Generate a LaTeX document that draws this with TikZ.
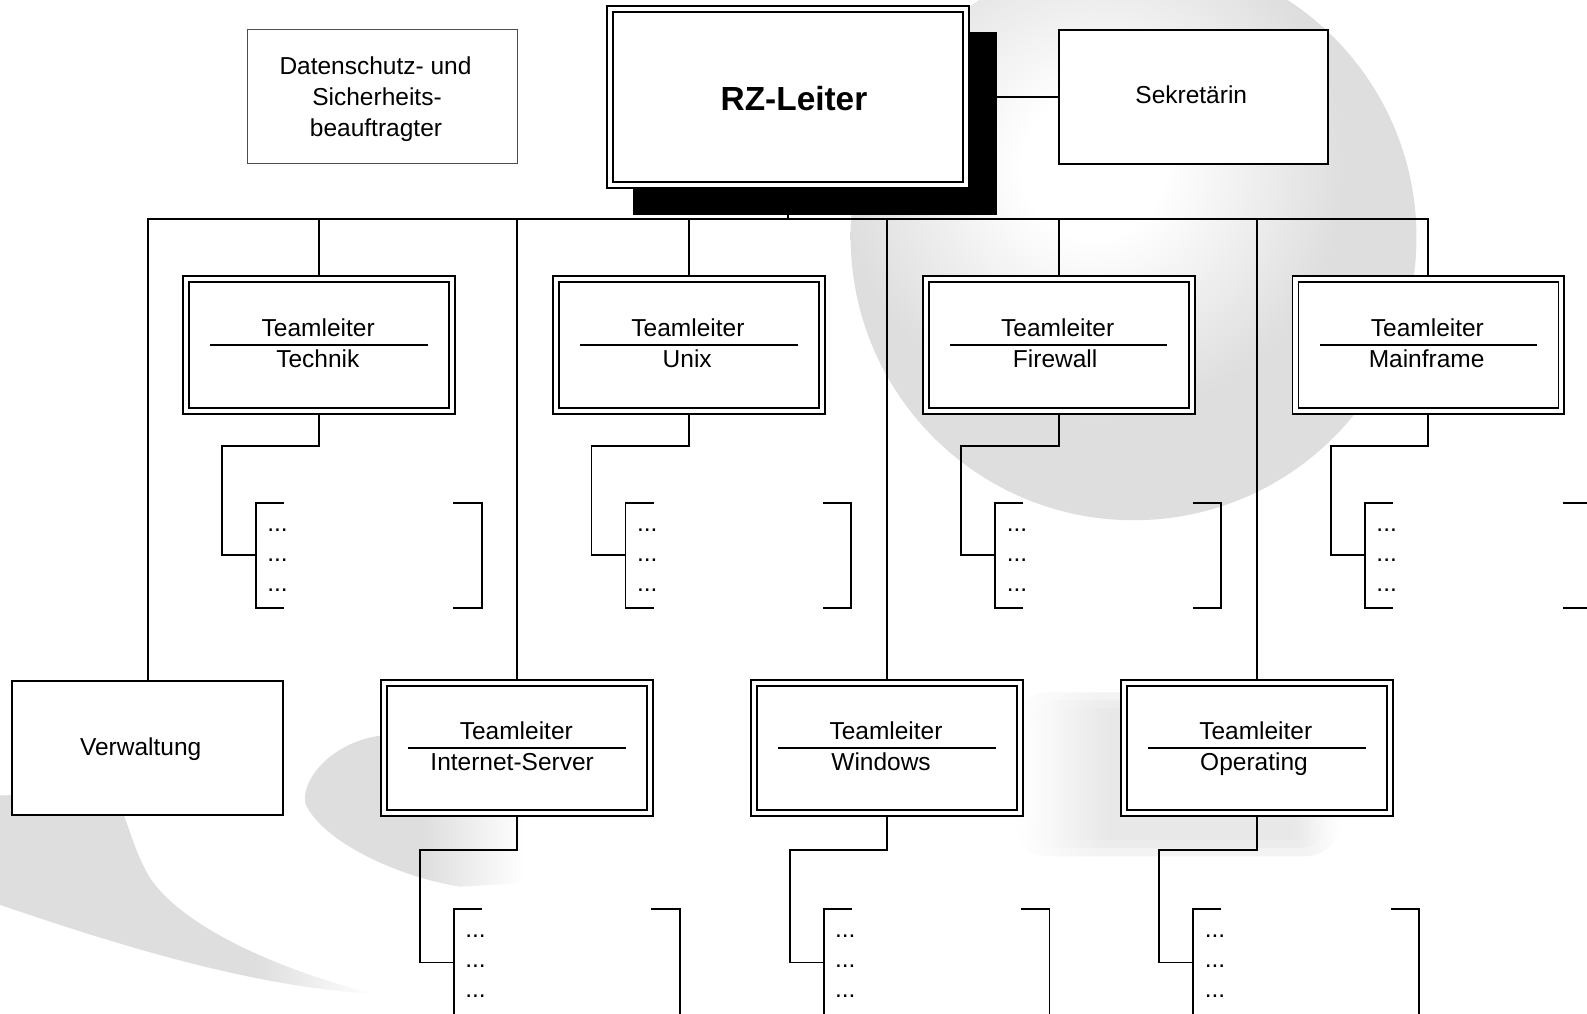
\documentclass[tikz,border=0pt]{standalone}
\usepackage{fontspec}
\setmainfont{Liberation Sans}
\definecolor{sg}{gray}{0.87}
\definecolor{sl}{gray}{0.90}
\pgfdeclareradialshading{spherehl}{\pgfpointorigin}{color(0bp)=(white); color(7bp)=(white); color(25bp)=(sg); color(50bp)=(sg)}
\pgfdeclarehorizontalshading{bandfade}{100bp}{color(0bp)=(sg); color(59bp)=(sg); color(75bp)=(white); color(100bp)=(white)}
\pgfdeclarehorizontalshading{armfade}{100bp}{color(0bp)=(sg); color(48bp)=(sg); color(67bp)=(white); color(100bp)=(white)}
\pgfdeclarehorizontalshading{blobfade}{100bp}{color(0bp)=(white); color(25bp)=(white); color(38bp)=(sl); color(70bp)=(sl); color(75bp)=(white); color(100bp)=(white)}
\pgfdeclarelayer{shapes}
\pgfdeclarelayer{lines}
\pgfsetlayers{shapes,lines,main}
\tikzset{
  conn/.style={line width=1.9pt},
  divider/.style={line width=1.6pt},
  dbox/.style={draw, line width=1.8pt, double=white, double distance=4.1pt, fill=white, minimum width=262.8pt, inner sep=0pt},
  sbox/.style={draw, line width=1.9pt, fill=white, inner sep=0pt},
  txt/.style={font=\fontsize{24.2}{29}\selectfont, inner sep=0pt, anchor=base},
  softblob/.style={shading=blobfade, rounded corners=34pt, opacity=0.45},
}
\newcommand\TeamBox[6]{%
  \node[dbox, minimum height=#4pt] (#1) at (#2,#3) {};
  \node[txt] (#1-t) at (#2-1,#3-8.3) {Teamleiter};
  \draw[divider] (#2-107.5,#3) -- (#2+107.5,#3);
  \node[txt] (#1-s) at (#2#5,#3+22) {#6};
}
\newcommand\SubGroup[6]{%
  \coordinate (#1-j) at (#2-62.7,#5);
  \coordinate (#1-k) at (#2-96.3,#3);
  \begin{pgfonlayer}{lines}
    \draw[conn] (#1.south) |- (#1-k) |- (#1-j);
  \end{pgfonlayer}
  \draw[conn] (#2-35,#4) -| (#2-62.7,#6) -- (#2-35,#6);
  \draw[conn] (#2+132.5,#4) -| (#2+160.5,#6) -- (#2+132.5,#6);
  \node[txt, anchor=base west] (#1-d1) at (#2-51.5,#4+28) {...};
  \node[txt, anchor=base west] (#1-d2) at (#2-51.5,#4+57.5) {...};
  \node[txt, anchor=base west] (#1-d3) at (#2-51.5,#4+87) {...};
}
\begin{document}
\begin{tikzpicture}[x=1pt,y=-1pt]
\useasboundingbox (0,0) rectangle (1568,1001);
\begin{pgfonlayer}{shapes}
  \fill[white] (0,0) rectangle (1568,1001);
  \fill[sg] (1120,234.5) circle (279.5pt);
  \begin{scope}
    \clip (1120,234.5) circle (279.5pt);
    \shade[shading=spherehl] (1080,165) circle (250pt);
  \end{scope}
  \shade[shading=bandfade] (0,786) -- (0,894) .. controls (120,935) and (250,975) .. (370,982) .. controls (300,965) and (190,925) .. (150,870) .. controls (130,840) and (125,800) .. (110,782) -- cycle;
  \shade[shading=armfade] (302,795) .. controls (296,770) and (330,730) .. (383,726) -- (560,718) -- (560,870) -- (455,876) .. controls (400,868) and (322,835) .. (302,795) -- cycle;
  \shade[softblob] (1002,684) rectangle (1324,846);
  \shade[softblob] (1010,692) rectangle (1316,838);
  \shade[softblob] (1018,700) rectangle (1308,830);
\end{pgfonlayer}

% top level
\node[draw=black!70, line width=1pt, fill=white, inner sep=0pt, minimum width=267pt, minimum height=133pt] (ds) at (378,95.35) {};
\node[txt] (ds-1) at (371,73.5) {Datenschutz- und};
\node[txt] (ds-2) at (372.5,104.3) {Sicherheits-};
\node[txt] (ds-3) at (371.5,134.5) {beauftragter};

\node[fill=black, inner sep=0pt, minimum width=359.5pt, minimum height=180.6pt] (rzshadow) at (805.25,122.2) {};
\node[dbox, minimum width=352.2pt, minimum height=174.4pt] (rz) at (778.6,95.8) {};
\node[font=\fontsize{33}{39}\selectfont\bfseries, anchor=base, inner sep=0pt] (rz-t) at (784.5,108.7) {RZ-Leiter};

\node[sbox, minimum width=265.5pt, minimum height=132.5pt] (sek) at (1179.5,95.8) {};
\node[txt] (sek-t) at (1177,102.6) {Sekretärin};

% team boxes
\TeamBox{tech}{315.4}{340.8}{130.2}{-1.4}{Technik}
\TeamBox{unix}{680.7}{340.8}{130.2}{-1.7}{Unix}
\TeamBox{fw}{1046}{340.8}{130.2}{-3.5}{Firewall}
\TeamBox{mf}{1411.3}{340.8}{130.2}{-1.8}{Mainframe}
\node[sbox, minimum width=268pt, minimum height=132.5pt] (verw) at (145.9,739) {};
\node[txt] (verw-t) at (139,746) {Verwaltung};
\TeamBox{inet}{511.1}{739.1}{128.3}{-5.1}{Internet-Server}
\TeamBox{win}{876.4}{739.1}{128.3}{-5.9}{Windows}
\TeamBox{op}{1241.7}{739.1}{128.3}{-2.7}{Operating}

% sub groups
\SubGroup{tech}{315.4}{440.8}{497.4}{548.5}{600.3}
\SubGroup{unix}{680.7}{440.8}{497.4}{548.5}{600.3}
\SubGroup{fw}{1046}{440.8}{497.4}{548.5}{600.3}
\SubGroup{mf}{1411.3}{440.8}{497.4}{548.5}{600.3}
\SubGroup{inet}{511.1}{840}{898.5}{951}{1030}
\SubGroup{win}{876.4}{840}{898.5}{951}{1030}
\SubGroup{op}{1241.7}{840}{898.5}{951}{1030}

% connectors
\begin{pgfonlayer}{lines}
  \coordinate (busL) at (145.9,216.7);
  \draw[conn] (verw.north) -- (verw.north |- busL) -- (mf.north |- busL) -- (mf.north);
  \draw[conn] (rz.south) -- (rz.south |- busL);
  \foreach \n in {tech,unix,fw,inet,win,op}
    \draw[conn] (\n.north) -- (\n.north |- busL);
  \draw[conn] (rz.east) -- (sek.west);
\end{pgfonlayer}
\end{tikzpicture}
\end{document}
